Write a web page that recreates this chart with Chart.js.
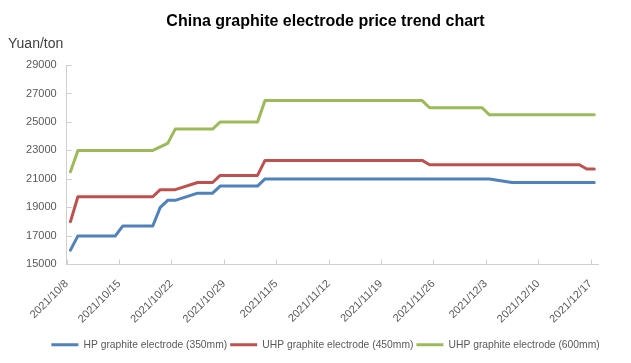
<!DOCTYPE html>
<html>
<head>
<meta charset="utf-8">
<script src="https://cdn.jsdelivr.net/npm/chart.js@4.4.0/dist/chart.umd.min.js"></script>
<style>
  body { margin: 0; background: #fff; }
  canvas { display: block; }
</style>
</head>
<body>
<canvas id="priceChart" width="631" height="363"></canvas>
<script>
// working days (China), Oct 9 2021 was a make-up working day
const dates = [
  '2021/10/8', '2021/10/9', '2021/10/11', '2021/10/12', '2021/10/13', '2021/10/14', '2021/10/15',
  '2021/10/18', '2021/10/19', '2021/10/20', '2021/10/21', '2021/10/22',
  '2021/10/25', '2021/10/26', '2021/10/27', '2021/10/28', '2021/10/29',
  '2021/11/1', '2021/11/2', '2021/11/3', '2021/11/4', '2021/11/5',
  '2021/11/8', '2021/11/9', '2021/11/10', '2021/11/11', '2021/11/12',
  '2021/11/15', '2021/11/16', '2021/11/17', '2021/11/18', '2021/11/19',
  '2021/11/22', '2021/11/23', '2021/11/24', '2021/11/25', '2021/11/26',
  '2021/11/29', '2021/11/30', '2021/12/1', '2021/12/2', '2021/12/3',
  '2021/12/6', '2021/12/7', '2021/12/8', '2021/12/9', '2021/12/10',
  '2021/12/13', '2021/12/14', '2021/12/15', '2021/12/16', '2021/12/17'
];

const hp350 = [
  16000, 17000, 17000, 17000, 17000, 17000, 17700,
  17700, 17700, 19000, 19500, 19500,
  20000, 20000, 20000, 20500, 20500,
  20500, 20500, 21000, 21000, 21000,
  21000, 21000, 21000, 21000, 21000,
  21000, 21000, 21000, 21000, 21000,
  21000, 21000, 21000, 21000, 21000,
  21000, 21000, 21000, 21000, 21000,
  20750, 20750, 20750, 20750, 20750,
  20750, 20750, 20750, 20750, 20750
];

const uhp450 = [
  18000, 19750, 19750, 19750, 19750, 19750, 19750,
  19750, 19750, 20250, 20250, 20250,
  20750, 20750, 20750, 21250, 21250,
  21250, 21250, 22300, 22300, 22300,
  22300, 22300, 22300, 22300, 22300,
  22300, 22300, 22300, 22300, 22300,
  22300, 22300, 22300, 22000, 22000,
  22000, 22000, 22000, 22000, 22000,
  22000, 22000, 22000, 22000, 22000,
  22000, 22000, 22000, 21700, 21700
];

const uhp600 = [
  21500, 23000, 23000, 23000, 23000, 23000, 23000,
  23000, 23000, 23250, 23500, 24500,
  24500, 24500, 24500, 25000, 25000,
  25000, 25000, 26500, 26500, 26500,
  26500, 26500, 26500, 26500, 26500,
  26500, 26500, 26500, 26500, 26500,
  26500, 26500, 26500, 26000, 26000,
  26000, 26000, 26000, 26000, 25500,
  25500, 25500, 25500, 25500, 25500,
  25500, 25500, 25500, 25500, 25500
];

const tickLabels = [
  '2021/10/8', '2021/10/15', '2021/10/22', '2021/10/29', '2021/11/5', '2021/11/12',
  '2021/11/19', '2021/11/26', '2021/12/3', '2021/12/10', '2021/12/17'
];

const seriesNames = [
  'HP graphite electrode (350mm)',
  'UHP graphite electrode (450mm)',
  'UHP graphite electrode (600mm)'
];
const colors = ['#4f81bd', '#c0504d', '#9bbb59'];

const dayOf = s => {
  const [yy, mm, dd] = s.split('/').map(Number);
  return (Date.UTC(yy, mm - 1, dd) - Date.UTC(2021, 9, 8)) / 86400000;
};
// date axis: each day is a slot, the point sits in the middle of it
const toPoints = vals => vals.map((v, i) => ({ x: dayOf(dates[i]) + 0.5, y: v }));

const innerTicks = {
  id: 'innerTicks',
  beforeDatasetsDraw(chart) {
    const { ctx, chartArea, scales: { x, y } } = chart;
    ctx.save();
    ctx.strokeStyle = '#d0d0d0';
    ctx.lineWidth = 1;
    ctx.beginPath();
    x.ticks.forEach(t => {
      const px = Math.round(x.getPixelForValue(t.value)) + 0.5;
      ctx.moveTo(px, chartArea.bottom);
      ctx.lineTo(px, chartArea.bottom - 5);
    });
    y.ticks.forEach(t => {
      const py = Math.round(y.getPixelForValue(t.value)) + 0.5;
      ctx.moveTo(chartArea.left, py);
      ctx.lineTo(chartArea.left + 5, py);
    });
    ctx.stroke();
    ctx.restore();
  }
};

Chart.defaults.font.family = "'Liberation Sans', Arial, sans-serif";
Chart.defaults.color = '#595959';

const ctx = document.getElementById('priceChart').getContext('2d');
new Chart(ctx, {
  type: 'line',
  data: {
    datasets: [hp350, uhp450, uhp600].map((vals, i) => ({
      label: seriesNames[i],
      data: toPoints(vals),
      borderColor: colors[i],
      backgroundColor: colors[i],
      borderWidth: 3,
      pointRadius: 0,
      tension: 0,
      borderJoinStyle: 'round',
      borderCapStyle: 'round'
    }))
  },
  plugins: [innerTicks],
  options: {
    responsive: false,
    animation: false,
    layout: { padding: { left: 8, right: -12, top: 0, bottom: 3 } },
    scales: {
      x: {
        type: 'linear',
        min: 0,
        max: 71,
        afterBuildTicks: s => { s.ticks = tickLabels.map(dayOf).map(v => ({ value: v })); },
        afterFit: s => { s.height = 72.3; },
        grid: { display: false },
        border: { color: '#d0d0d0' },
        ticks: {
          autoSkip: false,
          minRotation: 45,
          maxRotation: 45,
          padding: 5,
          font: { size: 11 },
          callback: v => tickLabels[tickLabels.map(dayOf).indexOf(v)] || ''
        }
      },
      y: {
        min: 15000,
        max: 29000,
        afterFit: s => { s.width = 58.7; },
        grid: { display: false },
        border: { color: '#d0d0d0' },
        ticks: { stepSize: 2000, padding: 2, font: { size: 11 }, callback: v => String(v) }
      },
      y2: {
        position: 'right',
        display: true,
        afterFit: s => { s.width = 45; },
        grid: { display: false },
        border: { display: false },
        ticks: { display: false }
      }
    },
    plugins: {
      title: {
        display: true,
        text: 'China graphite electrode price trend chart',
        color: '#000',
        font: { size: 16, weight: 'bold' },
        padding: { top: 12, bottom: 4 }
      },
      subtitle: {
        display: true,
        text: 'Yuan/ton',
        align: 'start',
        color: '#404040',
        font: { size: 14 },
        padding: { top: 1, bottom: 12 }
      },
      legend: {
        position: 'bottom',
        labels: {
          boxWidth: 27,
          boxHeight: 3,
          padding: 3,
          font: { size: 10.3 },
          generateLabels: chart => {
            const items = Chart.defaults.plugins.legend.labels.generateLabels(chart);
            items.forEach(it => { it.lineWidth = 0; });
            return items;
          }
        }
      },
      tooltip: { enabled: false }
    }
  }
});
</script>
</body>
</html>
